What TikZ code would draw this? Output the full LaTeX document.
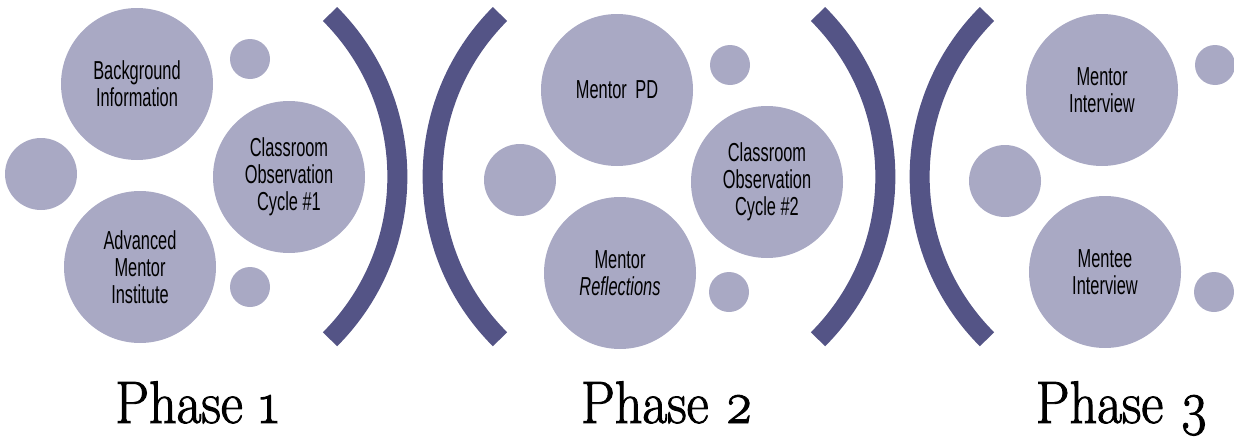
\documentclass[tikz,border=0pt]{standalone}
\usepackage{fontspec}
\newfontfamily\circfont[FakeStretch=0.63]{Liberation Sans}
\newfontfamily\phasefont[FakeStretch=0.9,FakeBold=1.6,Numbers=OldStyle]{Latin Modern Roman}
\definecolor{bubblefill}{RGB}{169,169,196}
\definecolor{arcblue}{RGB}{84,84,134}
\begin{document}
\begin{tikzpicture}[x=1pt,y=-1pt,
  bubble/.style={circle,fill=bubblefill,inner sep=0pt,align=center,text=black,
    font=\circfont\fontsize{26}{27}\selectfont},
  bigb/.style={bubble,minimum size=152pt},
  midb/.style={bubble,minimum size=72pt},
  smallb/.style={bubble,minimum size=40pt},
  bracket/.style={draw=arcblue,line width=20pt},
  phase/.style={inner sep=0pt,anchor=base,font=\phasefont\fontsize{60}{62}\selectfont}]
\useasboundingbox (0,0) rectangle (1234,442);
% Phase 1
\node[bigb]   (bg)  at (137,84)  {Background\\Information};
\node[smallb] (s1a) at (250,59)  {};
\node[midb]   (m1)  at (41,174)  {};
\node[bigb]   (co1) at (289,177) {Classroom\\Observation\\Cycle \#1};
\node[bigb]   (ami) at (140,267) {Advanced\\Mentor\\Institute};
\node[smallb] (s1b) at (250,287) {};
% Phase 2
\node[bigb]   (mpd) at (617,90)  {Mentor\hspace{0.15em} PD};
\node[smallb] (s2a) at (730,65)  {};
\node[midb]   (m2)  at (520,180) {};
\node[bigb]   (co2) at (767,182) {Classroom\\Observation\\Cycle \#2};
\node[bigb]   (mr)  at (620,273) {Mentor\\\itshape Reflections};
\node[smallb] (s2b) at (729,292) {};
% Phase 3
\node[bigb]   (mi)  at (1102,90)  {Mentor\\Interview};
\node[smallb] (s3a) at (1215,65)  {};
\node[midb]   (m3)  at (1005,181) {};
\node[bigb]   (mei) at (1105,272) {Mentee\\Interview};
\node[smallb] (s3b) at (1214,292) {};
% brackets
\coordinate (a1) at (330,14);
\coordinate (a2) at (500,14);
\coordinate (a3) at (818,14);
\coordinate (a4) at (987,14);
\draw[bracket] (a1) arc[start angle=-45, end angle=45, radius=230];
\draw[bracket] (a2) arc[start angle=225, end angle=135, radius=230];
\draw[bracket] (a3) arc[start angle=-45, end angle=45, radius=230];
\draw[bracket] (a4) arc[start angle=225, end angle=135, radius=230];
% phase labels
\node[phase] (p1) at (197,423)  {Phase 1};
\node[phase] (p2) at (667,423)  {Phase 2};
\node[phase] (p3) at (1122,423) {Phase 3};
\end{tikzpicture}
\end{document}
